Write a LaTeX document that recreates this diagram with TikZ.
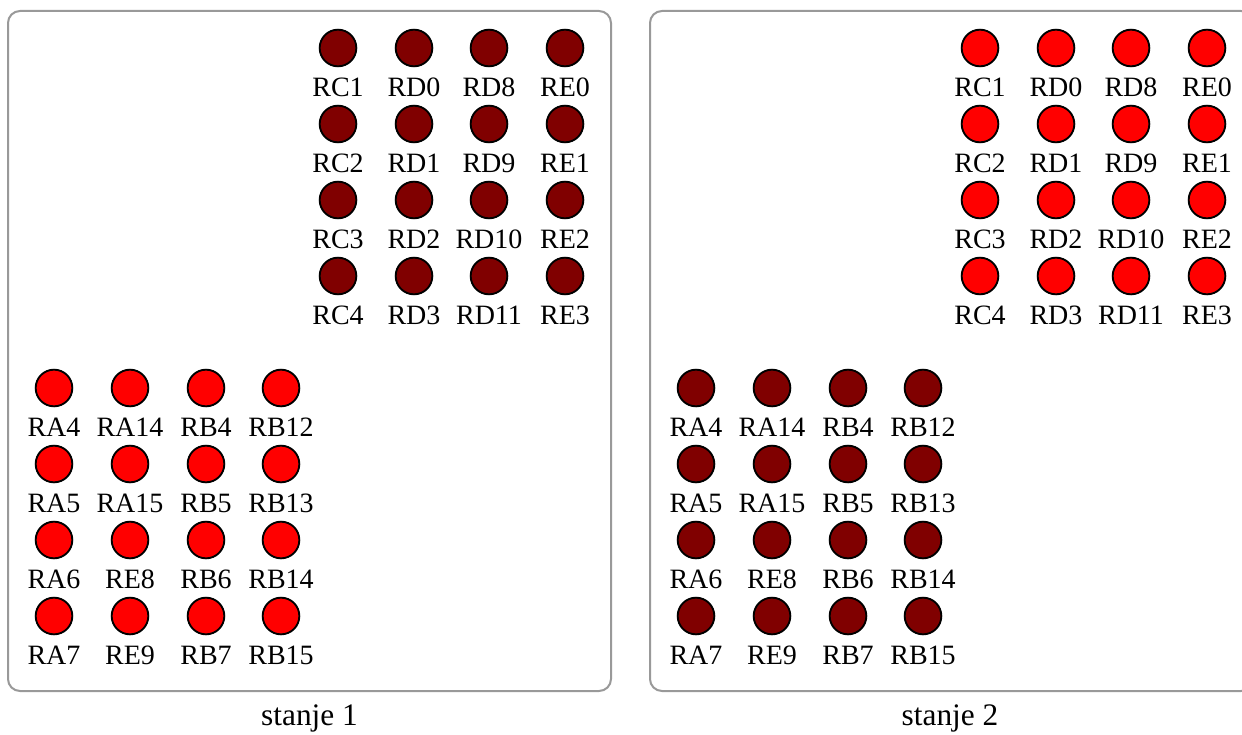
\documentclass[tikz,border=0pt]{standalone}
\usepackage{fontspec}
\setmainfont{Liberation Serif}
\definecolor{ledoff}{HTML}{800000}
\definecolor{ledon}{HTML}{FF0000}
\definecolor{panelgray}{HTML}{999999}

\begin{document}
\begin{tikzpicture}[x=0.75pt,y=-0.75pt,line cap=round,
  font=\fontsize{21pt}{24pt}\selectfont,
  label distance=7.5pt,every label/.style={inner sep=0pt,text height=13.9pt,text depth=0pt},
  led/.style={circle,draw=black,line width=1.4pt,minimum size=27.5pt,inner sep=0pt},
  dark/.style={led,fill=ledoff},
  lit/.style={led,fill=ledon},
  panel/.style={draw=panelgray,line width=1.5pt,rounded corners=9pt},
  caption/.style={font=\fontsize{23.5pt}{26pt}\selectfont}]
\path[use as bounding box] (0,0) rectangle (1242,735);
\draw[panel] (8,11) rectangle (611,691);
\draw[panel] (650,11) rectangle (1253,691);
\node[dark,label=below:RC1] (s1-rc1) at (338,48) {};
\node[dark,label=below:RD0] (s1-rd0) at (414,48) {};
\node[dark,label=below:RD8] (s1-rd8) at (489,48) {};
\node[dark,label=below:RE0] (s1-re0) at (565,48) {};
\node[dark,label=below:RC2] (s1-rc2) at (338,124) {};
\node[dark,label=below:RD1] (s1-rd1) at (414,124) {};
\node[dark,label=below:RD9] (s1-rd9) at (489,124) {};
\node[dark,label=below:RE1] (s1-re1) at (565,124) {};
\node[dark,label=below:RC3] (s1-rc3) at (338,200) {};
\node[dark,label=below:RD2] (s1-rd2) at (414,200) {};
\node[dark,label=below:RD10] (s1-rd10) at (489,200) {};
\node[dark,label=below:RE2] (s1-re2) at (565,200) {};
\node[dark,label=below:RC4] (s1-rc4) at (338,276) {};
\node[dark,label=below:RD3] (s1-rd3) at (414,276) {};
\node[dark,label=below:RD11] (s1-rd11) at (489,276) {};
\node[dark,label=below:RE3] (s1-re3) at (565,276) {};
\node[lit,label=below:RA4] (s1-ra4) at (54,388) {};
\node[lit,label=below:RA14] (s1-ra14) at (130,388) {};
\node[lit,label=below:RB4] (s1-rb4) at (206,388) {};
\node[lit,label=below:RB12] (s1-rb12) at (281,388) {};
\node[lit,label=below:RA5] (s1-ra5) at (54,464) {};
\node[lit,label=below:RA15] (s1-ra15) at (130,464) {};
\node[lit,label=below:RB5] (s1-rb5) at (206,464) {};
\node[lit,label=below:RB13] (s1-rb13) at (281,464) {};
\node[lit,label=below:RA6] (s1-ra6) at (54,540) {};
\node[lit,label=below:RE8] (s1-re8) at (130,540) {};
\node[lit,label=below:RB6] (s1-rb6) at (206,540) {};
\node[lit,label=below:RB14] (s1-rb14) at (281,540) {};
\node[lit,label=below:RA7] (s1-ra7) at (54,616) {};
\node[lit,label=below:RE9] (s1-re9) at (130,616) {};
\node[lit,label=below:RB7] (s1-rb7) at (206,616) {};
\node[lit,label=below:RB15] (s1-rb15) at (281,616) {};
\node[lit,label=below:RC1] (s2-rc1) at (980,48) {};
\node[lit,label=below:RD0] (s2-rd0) at (1056,48) {};
\node[lit,label=below:RD8] (s2-rd8) at (1131,48) {};
\node[lit,label=below:RE0] (s2-re0) at (1207,48) {};
\node[lit,label=below:RC2] (s2-rc2) at (980,124) {};
\node[lit,label=below:RD1] (s2-rd1) at (1056,124) {};
\node[lit,label=below:RD9] (s2-rd9) at (1131,124) {};
\node[lit,label=below:RE1] (s2-re1) at (1207,124) {};
\node[lit,label=below:RC3] (s2-rc3) at (980,200) {};
\node[lit,label=below:RD2] (s2-rd2) at (1056,200) {};
\node[lit,label=below:RD10] (s2-rd10) at (1131,200) {};
\node[lit,label=below:RE2] (s2-re2) at (1207,200) {};
\node[lit,label=below:RC4] (s2-rc4) at (980,276) {};
\node[lit,label=below:RD3] (s2-rd3) at (1056,276) {};
\node[lit,label=below:RD11] (s2-rd11) at (1131,276) {};
\node[lit,label=below:RE3] (s2-re3) at (1207,276) {};
\node[dark,label=below:RA4] (s2-ra4) at (696,388) {};
\node[dark,label=below:RA14] (s2-ra14) at (772,388) {};
\node[dark,label=below:RB4] (s2-rb4) at (848,388) {};
\node[dark,label=below:RB12] (s2-rb12) at (923,388) {};
\node[dark,label=below:RA5] (s2-ra5) at (696,464) {};
\node[dark,label=below:RA15] (s2-ra15) at (772,464) {};
\node[dark,label=below:RB5] (s2-rb5) at (848,464) {};
\node[dark,label=below:RB13] (s2-rb13) at (923,464) {};
\node[dark,label=below:RA6] (s2-ra6) at (696,540) {};
\node[dark,label=below:RE8] (s2-re8) at (772,540) {};
\node[dark,label=below:RB6] (s2-rb6) at (848,540) {};
\node[dark,label=below:RB14] (s2-rb14) at (923,540) {};
\node[dark,label=below:RA7] (s2-ra7) at (696,616) {};
\node[dark,label=below:RE9] (s2-re9) at (772,616) {};
\node[dark,label=below:RB7] (s2-rb7) at (848,616) {};
\node[dark,label=below:RB15] (s2-rb15) at (923,616) {};
\node[caption] (cap1) at (309.5,718) {stanje 1};
\node[caption] (cap2) at (950,718) {stanje 2};
\end{tikzpicture}
\end{document}
